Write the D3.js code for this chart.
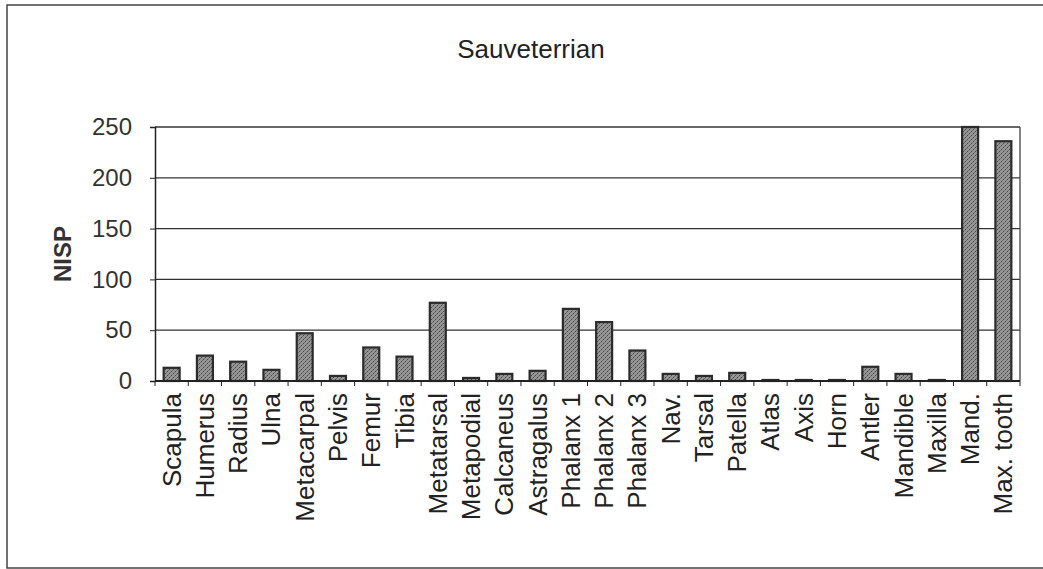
<!DOCTYPE html>
<html>
<head>
<meta charset="utf-8">
<script src="https://d3js.org/d3.v7.min.js"></script>
<style>
  body { margin: 0; background: #fff; }
  svg { font-family: "Liberation Sans", Arial, sans-serif; }
</style>
</head>
<body>
<svg id="chart" width="1043" height="569"></svg>
<script>
// data
var categories = ["Scapula", "Humerus", "Radius", "Ulna", "Metacarpal", "Pelvis", "Femur", "Tibia",
  "Metatarsal", "Metapodial", "Calcaneus", "Astragalus", "Phalanx 1", "Phalanx 2", "Phalanx 3",
  "Nav.", "Tarsal", "Patella", "Atlas", "Axis", "Horn", "Antler", "Mandible", "Maxilla", "Mand.", "Max. tooth"];
var nisp = [13, 25, 19, 11, 47, 5, 33, 24, 77, 3, 7, 10, 71, 58, 30, 7, 5, 8, 1, 1, 1, 14, 7, 1, 250, 236];
var yTicks = [0, 50, 100, 150, 200, 250];
var title = "Sauveterrian";
var yLabel = "NISP";

var svg = d3.select("#chart");
var margin = {top: 127, right: 23, bottom: 188, left: 155};
var width = 1043 - margin.left - margin.right,
    height = 569 - margin.top - margin.bottom;

// speckled grey fill like the printed bars
var pat = svg.append("defs").append("pattern")
  .attr("id", "speckle")
  .attr("width", 4).attr("height", 4)
  .attr("patternUnits", "userSpaceOnUse");
pat.append("rect").attr("width", 4).attr("height", 4).attr("fill", "#959595");
pat.append("rect").attr("x", 0).attr("y", 0).attr("width", 1).attr("height", 1).attr("fill", "#4a4a4a");
pat.append("rect").attr("x", 2).attr("y", 2).attr("width", 1).attr("height", 1).attr("fill", "#4a4a4a");
pat.append("rect").attr("x", 3).attr("y", 1).attr("width", 1).attr("height", 1).attr("fill", "#6e6e6e");
pat.append("rect").attr("x", 1).attr("y", 3).attr("width", 1).attr("height", 1).attr("fill", "#6e6e6e");

// outer frame (runs off the right edge like the scan)
svg.append("rect")
  .attr("x", 7).attr("y", 5)
  .attr("width", 1060).attr("height", 563)
  .attr("fill", "none")
  .attr("stroke", "#444")
  .attr("stroke-width", 1.5);

svg.append("text")
  .attr("x", 531).attr("y", 58)
  .attr("text-anchor", "middle")
  .style("font-size", "26px")
  .attr("fill", "#222")
  .text(title);

var g = svg.append("g").attr("transform", "translate(" + margin.left + "," + margin.top + ")");

var x = d3.scaleBand().domain(categories).range([0, width]).paddingInner(0.52).paddingOuter(0.26);
var y = d3.scaleLinear().domain([0, 250]).range([height, 0]);

// gridlines
g.selectAll(".grid").data(yTicks.slice(1)).enter().append("line")
  .attr("x1", 0).attr("x2", width)
  .attr("y1", function(d) { return y(d); })
  .attr("y2", function(d) { return y(d); })
  .attr("stroke", "#333")
  .attr("stroke-width", 1.3);

// right border of plot area
g.append("line")
  .attr("x1", width).attr("x2", width)
  .attr("y1", 0).attr("y2", height)
  .attr("stroke", "#444").attr("stroke-width", 1.3);

// bars
g.selectAll(".bar").data(nisp).enter().append("rect")
  .attr("class", "bar")
  .attr("x", function(d, i) { return x(categories[i]); })
  .attr("width", x.bandwidth())
  .attr("y", function(d) { return y(Math.min(d, 250)); })
  .attr("height", function(d) { return height - y(Math.min(d, 250)); })
  .attr("fill", "url(#speckle)")
  .attr("stroke", "#2b2b2b")
  .attr("stroke-width", 2.2);

// y axis
var yAxis = g.append("g")
  .call(d3.axisLeft(y).tickValues(yTicks).tickSize(5).tickPadding(18));
yAxis.select(".domain").attr("stroke", "#222").attr("stroke-width", 1.5);
yAxis.selectAll(".tick line").attr("stroke", "#222");
yAxis.selectAll("text").style("font-size", "24px").attr("fill", "#333");

// x axis with ticks between categories
var xAxis = g.append("g").attr("transform", "translate(0," + height + ")");
xAxis.append("line").attr("x1", 0).attr("x2", width).attr("stroke", "#222").attr("stroke-width", 1.8);
var step = x.step();
xAxis.selectAll(".xt").data(d3.range(categories.length + 1)).enter().append("line")
  .attr("x1", function(d) { return d * step; })
  .attr("x2", function(d) { return d * step; })
  .attr("y1", 0).attr("y2", 5)
  .attr("stroke", "#222");

xAxis.selectAll(".xl").data(categories).enter().append("text")
  .attr("transform", function(d) {
    return "translate(" + (x(d) + x.bandwidth() / 2 + 9) + ",12) rotate(-90)";
  })
  .attr("text-anchor", "end")
  .style("font-size", "26px")
  .attr("fill", "#222")
  .text(function(d) { return d; });

// y label
svg.append("text")
  .attr("transform", "translate(71," + (margin.top + height / 2) + ") rotate(-90)")
  .attr("text-anchor", "middle")
  .style("font-size", "24px")
  .style("font-weight", "bold")
  .attr("fill", "#333")
  .text(yLabel);
</script>
</body>
</html>
